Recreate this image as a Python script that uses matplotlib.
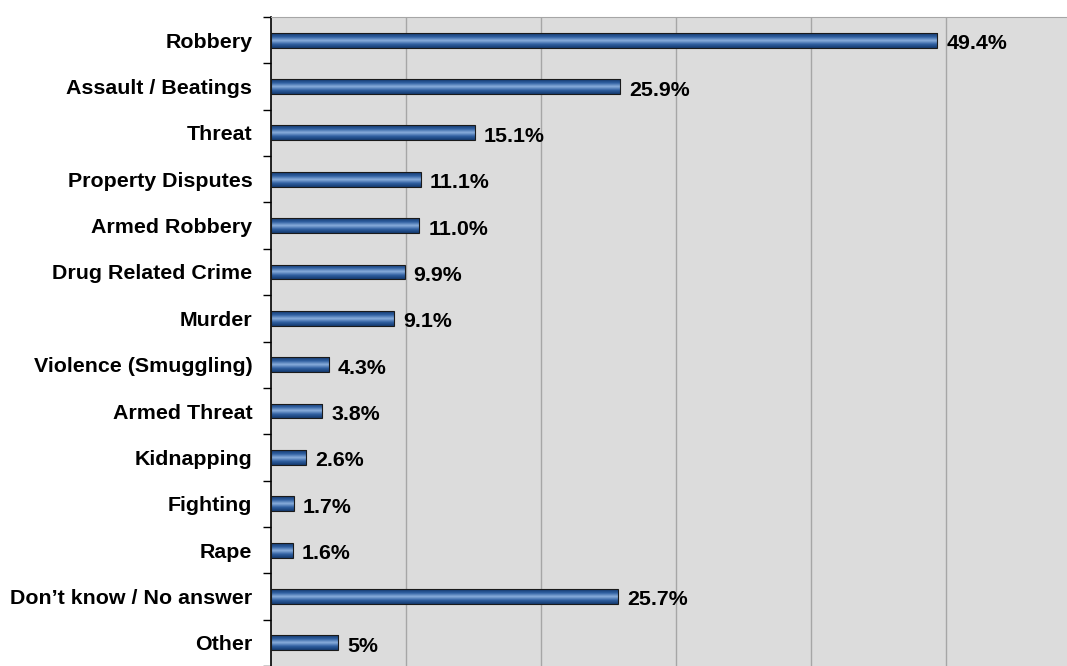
import numpy as np
import matplotlib.pyplot as plt
from matplotlib.colors import LinearSegmentedColormap

categories = ['Robbery', 'Assault / Beatings', 'Threat', 'Property Disputes',
              'Armed Robbery', 'Drug Related Crime', 'Murder',
              'Violence (Smuggling)', 'Armed Threat', 'Kidnapping',
              'Fighting', 'Rape', 'Don\u2019t know / No answer', 'Other']
values = [49.4, 25.9, 15.1, 11.1, 11.0, 9.9, 9.1, 4.3, 3.8, 2.6, 1.7, 1.6, 25.7, 5]
value_labels = ['49.4%', '25.9%', '15.1%', '11.1%', '11.0%', '9.9%', '9.1%',
                '4.3%', '3.8%', '2.6%', '1.7%', '1.6%', '25.7%', '5%']

plt.rcParams['font.family'] = ['Liberation Sans', 'DejaVu Sans']

W, H = 1067, 666
fig = plt.figure(figsize=(W / 100, H / 100), dpi=100)
ax = fig.add_axes([271 / W, 0, 1 - 271 / W, 1 - 17 / H])
ax.set_facecolor('#dcdcdc')

y = np.arange(len(categories))
bh = 0.32
bars = ax.barh(y, values, height=bh, color='none', edgecolor='#1a1a1a',
               linewidth=0.8, zorder=3)

# cylinder-like shading across each bar
cmap = LinearSegmentedColormap.from_list(
    'cyl', ['#143a70', '#2f5fa0', '#8aaedc', '#2f5fa0', '#143a70'])
grad = np.linspace(0, 1, 64).reshape(-1, 1)
for b, v, yy in zip(bars, values, y):
    im = ax.imshow(grad, cmap=cmap, aspect='auto', zorder=2,
                   extent=(0, v, yy + bh / 2, yy - bh / 2), interpolation='bilinear')
    im.set_clip_path(b)

for v, yy, lab in zip(values, y, value_labels):
    ax.annotate(lab, (v, yy), xytext=(6.5, -2.5), textcoords='offset points',
                va='center', ha='left', fontsize=15.4, fontweight='bold', zorder=4)

ax.set_xlim(0, 59)
ax.set_ylim(13 + 15 / 46.9, -0.5)
ax.set_xticks([10, 20, 30, 40, 50])
ax.tick_params(axis='x', length=0, labelbottom=False)
ax.grid(axis='x', color='#a6a6a6', linewidth=1, zorder=1)

ax.set_yticks(y)
ax.set_yticklabels(categories, fontsize=15.4, fontweight='bold')
ax.tick_params(axis='y', length=0, pad=13.5)
ax.set_yticks(np.arange(-0.5, len(categories), 1), minor=True)
ax.tick_params(axis='y', which='minor', length=6, width=1, direction='out')

for s in ['right', 'bottom']:
    ax.spines[s].set_visible(False)
ax.spines['top'].set_color('#a6a6a6')
ax.spines['left'].set_color('black')
ax.spines['left'].set_linewidth(1.2)

fig.savefig('out.png', dpi=100)
